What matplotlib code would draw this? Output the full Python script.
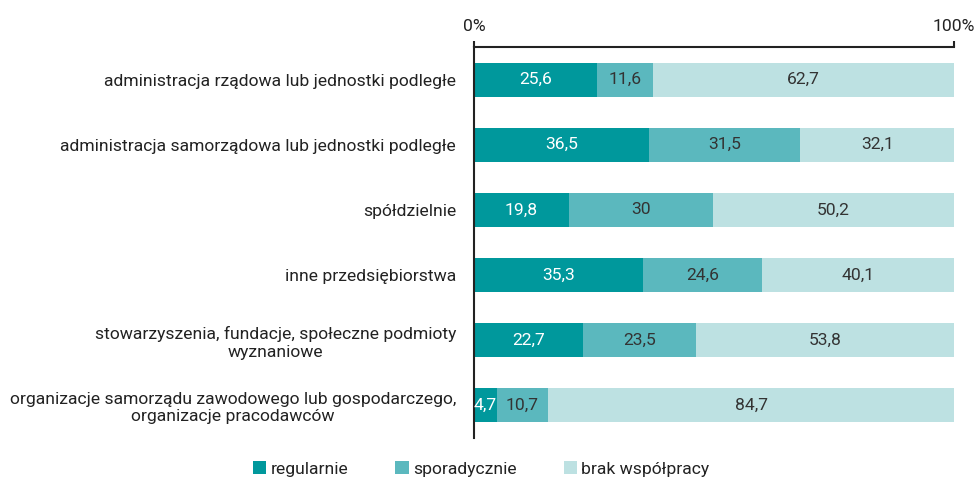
import numpy as np
import matplotlib.pyplot as plt

categories = [
    "administracja rządowa lub jednostki podległe",
    "administracja samorządowa lub jednostki podległe",
    "spółdzielnie",
    "inne przedsiębiorstwa",
    "stowarzyszenia, fundacje, społeczne podmioty\nwyznaniowe",
    "organizacje samorządu zawodowego lub gospodarczego,\norganizacje pracodawców",
]
regularnie = [25.6, 36.5, 19.8, 35.3, 22.7, 4.7]
sporadycznie = [11.6, 31.5, 30, 24.6, 23.5, 10.7]
brak = [62.7, 32.1, 50.2, 40.1, 53.8, 84.7]
series_names = ["regularnie", "sporadycznie", "brak współpracy"]
colors = ["#00989c", "#5bb8be", "#bde1e2"]
text_colors = ["white", "#333333", "#333333"]

plt.rcParams['font.family'] = ['Roboto', 'DejaVu Sans']
fs = 12.6

fig = plt.figure(figsize=(9.76, 4.78), dpi=100)
ax = fig.add_axes([474 / 976, 1 - 438 / 478, 480 / 976, 391 / 478])

y = np.arange(len(categories))
left = np.zeros(len(categories))
for vals, name, col, tcol in zip([regularnie, sporadycznie, brak], series_names, colors, text_colors):
    vals = np.array(vals, dtype=float)
    ax.barh(y, vals, left=left, height=0.52, color=col, label=name)
    for yi, l, v in zip(y, left, vals):
        lbl = str(int(v)) if v == int(v) else str(v).replace(".", ",")
        ax.text(l + v / 2, yi, lbl, ha="center", va="center", color=tcol, fontsize=fs)
    left += vals

ax.set_xlim(0, 100)
ax.set_ylim(len(categories) - 0.5, -0.5)
ax.set_yticks(y)
ax.set_yticklabels(categories, fontsize=fs, color="#222222", multialignment="center")
ax.tick_params(axis="y", length=0, pad=13)
ax.xaxis.tick_top()
ax.set_xticks([0, 100])
ax.set_xticklabels(["0%", "100%"], fontsize=fs, color="#222222")
ax.tick_params(axis="x", direction="out", length=4.5, width=1.5, color="#222222", pad=5)
for s in ["bottom", "right"]:
    ax.spines[s].set_visible(False)
for s in ["top", "left"]:
    ax.spines[s].set_linewidth(1.5)
    ax.spines[s].set_color("#222222")

fig.legend(loc="lower center", bbox_to_anchor=(0.493, -0.03), ncol=3, frameon=False,
           fontsize=fs, handlelength=0.75, handleheight=0.75, handletextpad=0.25,
           columnspacing=2.7, labelcolor="#222222")

fig.savefig("out.png", dpi=100)
